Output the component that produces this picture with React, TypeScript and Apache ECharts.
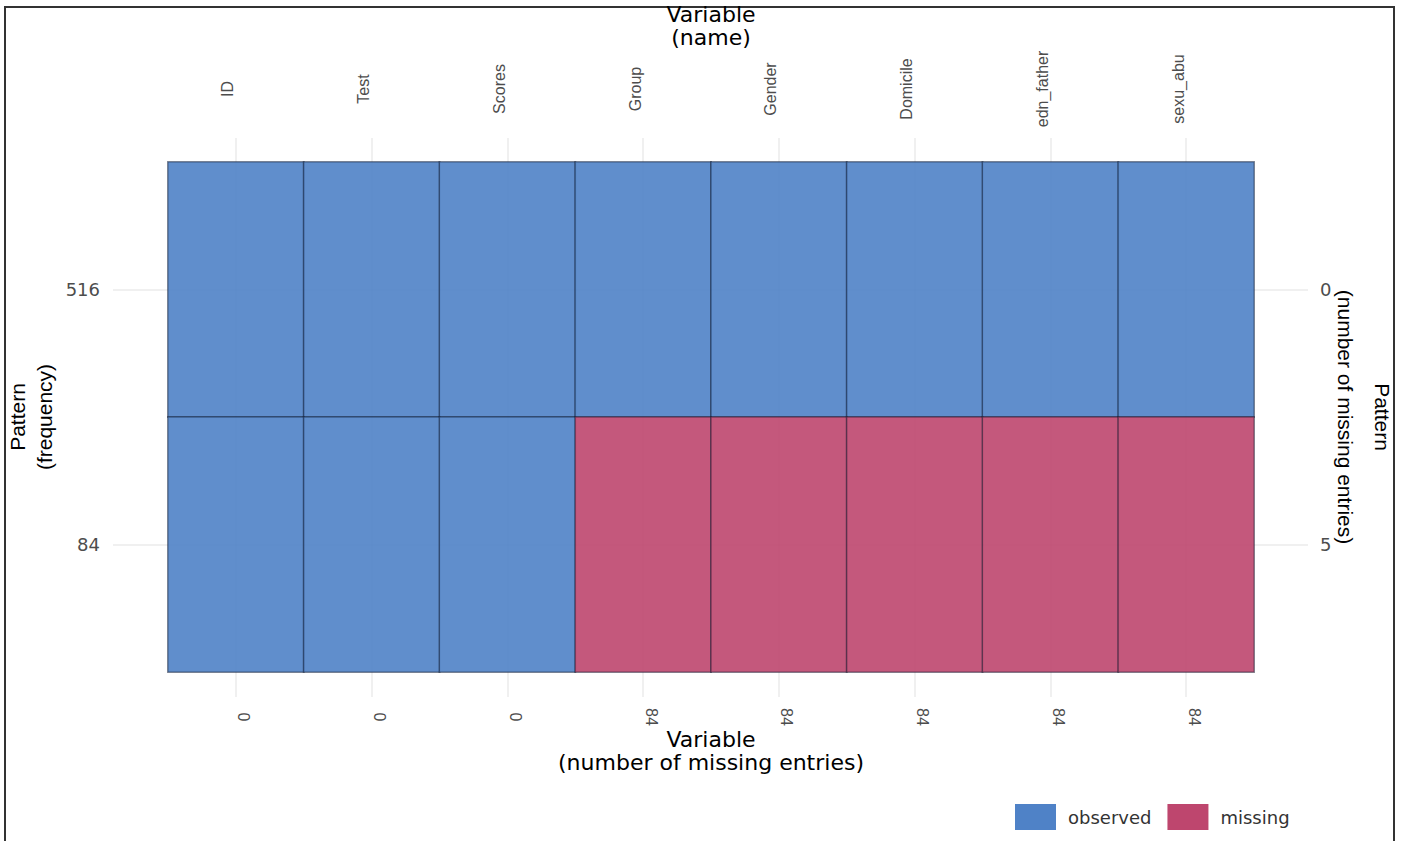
import React, { useEffect, useRef } from 'react';
import * as echarts from 'echarts';

// Variables (columns) and the number of missing entries in each
const variables = ['ID', 'Test', 'Scores', 'Group', 'Gender', 'Domicile', 'edn_father', 'sexu_abu'];
const missingPerVariable = [0, 0, 0, 84, 84, 84, 84, 84];

// Missing-data patterns (rows): frequency and number of missing entries
const patternFrequency = ['516', '84'];
const patternMissingCount = [0, 5];

// 1 = observed, 0 = missing
const patternObserved = [
  [1, 1, 1, 1, 1, 1, 1, 1],
  [1, 1, 1, 0, 0, 0, 0, 0],
];

const statusLabels = { observed: 'observed', missing: 'missing' };

const GRID_COLOR = '#ebebeb';
const TICK_COLOR = '#4d4d4d';
const SANS = 'DejaVu Sans';
const NARROW = 'Liberation Sans';

export default function App() {
  const ref = useRef<HTMLDivElement>(null);

  useEffect(() => {
    if (!ref.current) return;
    const chart = echarts.init(ref.current, undefined, { renderer: 'svg' });

    const cells: number[][] = [];
    patternObserved.forEach((row, y) => {
      row.forEach((v, x) => cells.push([x, y, v]));
    });

    const gridLine = { color: GRID_COLOR, width: 1.5 };

    chart.setOption({
      animation: false,
      backgroundColor: '#ffffff',
      textStyle: { fontFamily: SANS },
      grid: {
        left: 168,
        right: 150,
        top: 162,
        bottom: 169,
        containLabel: false,
        outerBoundsMode: 'none',
      },
      xAxis: [
        {
          type: 'category',
          position: 'top',
          data: variables,
          axisLine: { show: false },
          axisTick: { show: true, alignWithLabel: true, length: 24, lineStyle: gridLine },
          splitLine: { show: true, alignWithLabel: true, lineStyle: gridLine },
          axisLabel: {
            interval: 0,
            rotate: -90,
            align: 'center',
            verticalAlign: 'bottom',
            margin: 73,
            fontFamily: NARROW,
            fontSize: 16,
            color: TICK_COLOR,
          },
          name: 'Variable\n(name)',
          nameLocation: 'middle',
          nameMoveOverlap: false,
          nameGap: 113,
          nameTextStyle: { fontFamily: SANS, fontSize: 22, lineHeight: 23, color: '#000' },
        },
        {
          type: 'category',
          position: 'bottom',
          data: variables,
          axisLine: { show: false },
          axisTick: { show: true, alignWithLabel: true, length: 25, lineStyle: gridLine },
          splitLine: { show: false },
          axisLabel: {
            interval: 0,
            rotate: -90,
            align: 'center',
            verticalAlign: 'bottom',
            margin: 45,
            fontFamily: NARROW,
            fontSize: 16,
            color: TICK_COLOR,
            formatter: (_v: string, i: number) => String(missingPerVariable[i]),
          },
          name: 'Variable\n(number of missing entries)',
          nameLocation: 'middle',
          nameMoveOverlap: false,
          nameGap: 56,
          nameTextStyle: { fontFamily: SANS, fontSize: 22, lineHeight: 23, color: '#000' },
        },
      ],
      yAxis: [
        {
          type: 'category',
          position: 'left',
          inverse: true,
          data: patternFrequency,
          axisLine: { show: false },
          axisTick: { show: true, alignWithLabel: true, length: 55, lineStyle: gridLine },
          splitLine: { show: true, alignWithLabel: true, lineStyle: gridLine },
          axisLabel: { margin: 68, fontFamily: SANS, fontSize: 18, color: TICK_COLOR },
          name: 'Pattern\n(frequency)',
          nameLocation: 'middle',
          nameMoveOverlap: false,
          nameGap: 110,
          nameTextStyle: { fontFamily: NARROW, fontSize: 21, lineHeight: 27, color: '#000' },
        },
        {
          type: 'category',
          position: 'right',
          inverse: true,
          data: patternFrequency,
          axisLine: { show: false },
          axisTick: { show: true, alignWithLabel: true, length: 54, lineStyle: gridLine },
          splitLine: { show: false },
          axisLabel: {
            margin: 66,
            fontFamily: SANS,
            fontSize: 18,
            color: TICK_COLOR,
            formatter: (_v: string, i: number) => String(patternMissingCount[i]),
          },
          name: 'Pattern\n(number of missing entries)',
          nameLocation: 'middle',
          nameMoveOverlap: false,
          nameRotate: -90,
          nameGap: 73,
          nameTextStyle: { fontFamily: NARROW, fontSize: 21, lineHeight: 37, color: '#000' },
        },
      ],
      visualMap: {
        type: 'piecewise',
        seriesIndex: 0,
        dimension: 2,
        orient: 'horizontal',
        inverse: true,
        left: 1000,
        top: 789,
        itemWidth: 41,
        itemHeight: 26,
        itemGap: 16,
        textGap: 12,
        itemSymbol: 'rect',
        selectedMode: false,
        pieces: [
          { value: 1, label: statusLabels.observed, color: '#4f82c7' },
          { value: 0, label: statusLabels.missing, color: '#be466e' },
        ],
        textStyle: { fontFamily: SANS, fontSize: 18, color: '#333' },
      },
      graphic: [
        {
          type: 'rect',
          silent: true,
          shape: { x: 5, y: 7, width: 1389, height: 900 },
          style: { fill: 'none', stroke: '#333', lineWidth: 2 },
        },
      ],
      series: [
        {
          type: 'heatmap',
          xAxisIndex: 0,
          yAxisIndex: 0,
          data: cells,
          itemStyle: { borderColor: 'rgba(20,30,50,0.55)', borderWidth: 1.5, opacity: 0.9 },
          emphasis: { disabled: true },
        },
      ],
    });

    return () => chart.dispose();
  }, []);

  return (
    <div
      ref={ref}
      style={{ position: 'absolute', left: 0, top: 0, width: 1404, height: 841 }}
    />
  );
}
